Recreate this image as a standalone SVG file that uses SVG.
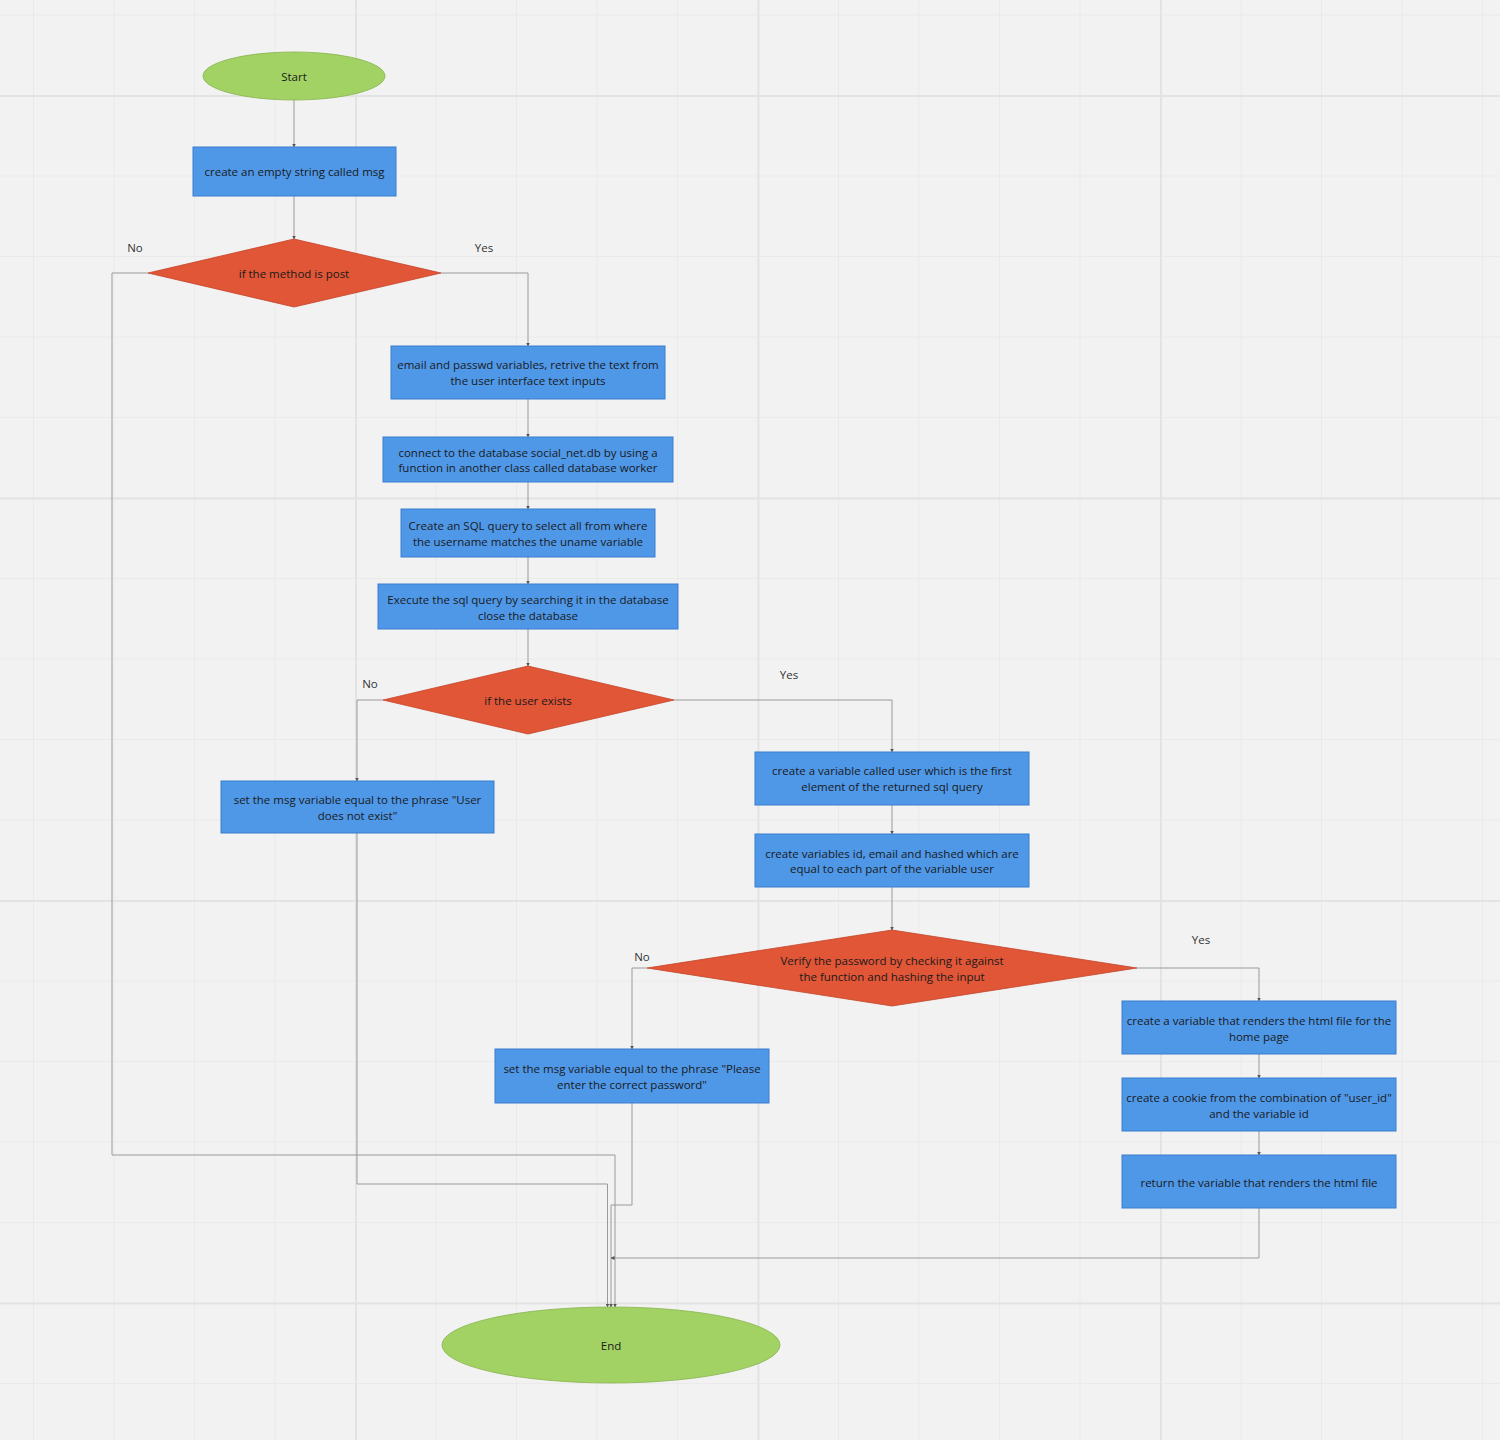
<svg xmlns="http://www.w3.org/2000/svg" width="1500" height="1440" viewBox="0 0 1500 1440">
<defs>
<pattern id="minor" x="33" y="14.5" width="80.5" height="80.5" patternUnits="userSpaceOnUse">
<path d="M0.5 0V80.5M0 0.5H80.5" stroke="#eaeaea" stroke-width="1" fill="none"/>
</pattern>
<pattern id="major" x="-47.5" y="-307.5" width="402.5" height="402.5" patternUnits="userSpaceOnUse">
<path d="M1 0V402.5M0 1H402.5" stroke="#e3e3e3" stroke-width="2" fill="none"/>
</pattern>
<marker id="arr" markerWidth="4" markerHeight="4" refX="3.5" refY="2" orient="auto" markerUnits="userSpaceOnUse">
<path d="M0 0L4 2L0 4z" fill="#555"/>
</marker>
</defs>
<style>
.t{font-family:"Open Sans","Noto Sans",sans-serif;font-size:11.5px;fill:#1a1a1a;text-anchor:middle;dominant-baseline:middle}
.lbl{font-family:"Open Sans","Noto Sans",sans-serif;font-size:11.5px;fill:#333;text-anchor:middle;dominant-baseline:middle}
.box{fill:#4f98e8;stroke:#3b7dcc;stroke-width:1}
.dia{fill:#e05637;stroke:#c44428;stroke-width:0.8}
.ell{fill:#a1d263;stroke:#86b34b;stroke-width:0.8}
.c{fill:none;stroke:#9a9a9a;stroke-width:1;marker-end:url(#arr)}
</style>
<rect width="1500" height="1440" fill="#f2f2f2"/>
<rect width="1500" height="1440" fill="url(#minor)"/>
<rect width="1500" height="1440" fill="url(#major)"/>

<g id="connectors">
<path class="c" d="M294 100V147"/>
<path class="c" d="M294 196V239"/>
<path class="c" d="M148 273H112V1155H615V1307"/>
<path class="c" d="M441 273H528V346"/>
<path class="c" d="M528 399V437"/>
<path class="c" d="M528 482V509"/>
<path class="c" d="M528 557V584"/>
<path class="c" d="M528 629V666"/>
<path class="c" d="M383 700H357V781"/>
<path class="c" d="M357 833V1184H607.5V1307"/>
<path class="c" d="M674 700H892V752"/>
<path class="c" d="M892 805V834"/>
<path class="c" d="M892 887V930"/>
<path class="c" d="M647 968H632V1049"/>
<path class="c" d="M632 1103V1205H611V1307"/>
<path class="c" d="M1137 968H1259V1001"/>
<path class="c" d="M1259 1054V1078"/>
<path class="c" d="M1259 1131V1155"/>
<path class="c" d="M1259 1208V1258H611"/>
</g>
<g id="labels">
<text class="lbl" x="135" y="249">No</text>
<text class="lbl" x="484" y="249">Yes</text>
<text class="lbl" x="370" y="685">No</text>
<text class="lbl" x="789" y="676">Yes</text>
<text class="lbl" x="642" y="958">No</text>
<text class="lbl" x="1201" y="941">Yes</text>
</g>

<g id="start"><ellipse class="ell" cx="294" cy="76" rx="91" ry="24"/><text class="t" x="294" y="78">Start</text></g>
<g id="n1"><rect class="box" x="193" y="147" width="203" height="49"/><text class="t" x="294.5" y="173">create an empty string called msg</text></g>
<g id="d1"><polygon class="dia" points="294,239 441,273 294,307 148,273"/><text class="t" x="294" y="275">if the method is post</text></g>
<g id="n2"><rect class="box" x="391" y="346" width="274" height="53"/><text class="t" x="528" y="366">email and passwd variables, retrive the text from</text><text class="t" x="528" y="382">the user interface text inputs</text></g>
<g id="n3"><rect class="box" x="383" y="437" width="290" height="45"/><text class="t" x="528" y="454">connect to the database social_net.db by using a</text><text class="t" x="528" y="469">function in another class called database worker</text></g>
<g id="n4"><rect class="box" x="401" y="509" width="254" height="48"/><text class="t" x="528" y="527">Create an SQL query to select all from where</text><text class="t" x="528" y="543">the username matches the uname variable</text></g>
<g id="n5"><rect class="box" x="378" y="584" width="300" height="45"/><text class="t" x="528" y="601">Execute the sql query by searching it in the database</text><text class="t" x="528" y="617">close the database</text></g>
<g id="d2"><polygon class="dia" points="528,666 674,700 528,734 383,700"/><text class="t" x="528" y="702">if the user exists</text></g>
<g id="n6"><rect class="box" x="221" y="781" width="273" height="52"/><text class="t" x="357.5" y="801">set the msg variable equal to the phrase "User</text><text class="t" x="357.5" y="817">does not exist"</text></g>
<g id="n7"><rect class="box" x="755" y="752" width="274" height="53"/><text class="t" x="892" y="772">create a variable called user which is the first</text><text class="t" x="892" y="788">element of the returned sql query</text></g>
<g id="n8"><rect class="box" x="755" y="834" width="274" height="53"/><text class="t" x="892" y="855">create variables id, email and hashed which are</text><text class="t" x="892" y="870">equal to each part of the variable user</text></g>
<g id="d3"><polygon class="dia" points="892,930 1137,968 892,1006 647,968"/><text class="t" x="892" y="962">Verify the password by checking it against</text><text class="t" x="892" y="978">the function and hashing the input</text></g>
<g id="n9"><rect class="box" x="495" y="1049" width="274" height="54"/><text class="t" x="632" y="1070">set the msg variable equal to the phrase "Please</text><text class="t" x="632" y="1086">enter the correct password"</text></g>
<g id="n10"><rect class="box" x="1122" y="1001" width="274" height="53"/><text class="t" x="1259" y="1022">create a variable that renders the html file for the</text><text class="t" x="1259" y="1038">home page</text></g>
<g id="n11"><rect class="box" x="1122" y="1078" width="274" height="53"/><text class="t" x="1259" y="1099">create a cookie from the combination of "user_id"</text><text class="t" x="1259" y="1115">and the variable id</text></g>
<g id="n12"><rect class="box" x="1122" y="1155" width="274" height="53"/><text class="t" x="1259" y="1184">return the variable that renders the html file</text></g>
<g id="end"><ellipse class="ell" cx="611" cy="1345" rx="169" ry="38"/><text class="t" x="611" y="1347">End</text></g>
</svg>
